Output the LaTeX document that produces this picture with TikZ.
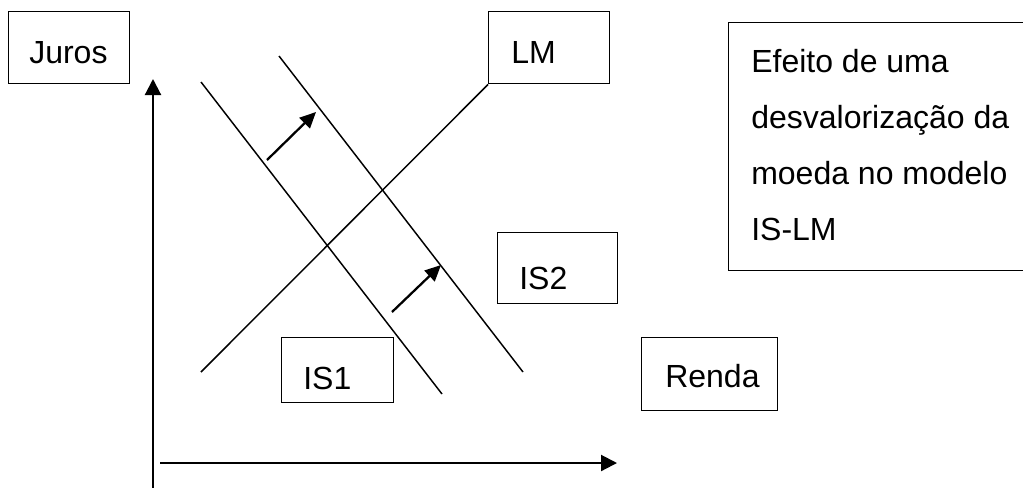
\documentclass[tikz,border=0pt]{standalone}
\usepackage{fontspec}
\setmainfont{Liberation Sans}
\usetikzlibrary{arrows.meta}
\begin{document}
\begin{tikzpicture}[x=0.75pt,y=-0.75pt,
  box/.style={draw, line width=1.1pt, inner sep=0pt, anchor=north west},
  lbl/.style={inner sep=0pt, anchor=base west, font=\fontsize{24}{41.8}\selectfont},
  curve/.style={line width=1.1pt},
  axis/.style={line width=1.6pt, -{Triangle[length=12pt,width=12pt]}},
  shiftarrow/.style={line width=1.7pt, -{Triangle[length=12pt,width=11pt]}}]
\useasboundingbox (0,0) rectangle (1023,487);
\clip (0,0) rectangle (1023,487);

% label boxes
\node[box, minimum width=90.75pt, minimum height=54pt] (juros) at (8,11) {};
\node[lbl] (jurostext) at (29,63) {Juros};
\node[box, minimum width=90.75pt, minimum height=54pt] (lm) at (488,11) {};
\node[lbl] (lmtext) at (511,63) {LM};
\node[box, minimum width=84pt, minimum height=48.75pt] (is1) at (281,337) {};
\node[lbl] (is1text) at (303,389) {IS1};
\node[box, minimum width=90pt, minimum height=53.25pt] (is2) at (497,232) {};
\node[lbl] (is2text) at (519,289) {IS2};
\node[box, minimum width=102pt, minimum height=54.75pt] (renda) at (641,337) {};
\node[lbl] (rendatext) at (665,387) {Renda};
\node[box, minimum width=230.25pt, minimum height=186pt] (note) at (728,22) {};
% multi-line text: base anchor sits on the last line
\node[lbl, align=left] (notetext) at (751,240) {Efeito de uma\\desvalorização da\\moeda no modelo\\IS-LM};

% axes
\coordinate (yfoot) at (153,492);
\coordinate (ytip) at (153,79);
\coordinate (xfoot) at (160,463);
\coordinate (xtip) at (617,463);
\draw[axis] (yfoot) -- (ytip);
\draw[axis] (xfoot) -- (xtip);

% IS and LM curves
\coordinate (is1a) at (201,82);
\coordinate (is1b) at (442,394);
\coordinate (is2a) at (279,56);
\coordinate (is2b) at (523,372);
\coordinate (lma) at (201,372);
\draw[curve] (is1a) -- (is1b);
\draw[curve] (is2a) -- (is2b);
\draw[curve] (lma) -- (lm.south west);

% shift of IS
\coordinate (s1a) at (267,160);
\coordinate (s1b) at (316,112);
\coordinate (s2a) at (392,312);
\coordinate (s2b) at (441,265);
\draw[shiftarrow] (s1a) -- (s1b);
\draw[shiftarrow] (s2a) -- (s2b);
\end{tikzpicture}
\end{document}
